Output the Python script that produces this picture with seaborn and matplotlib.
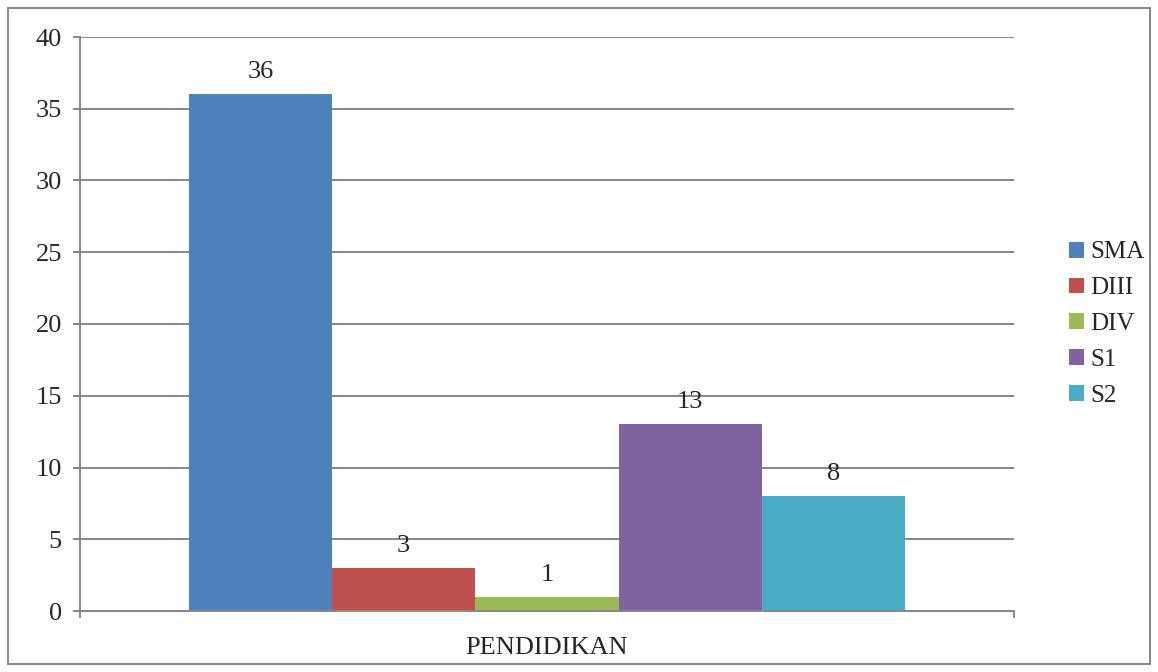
import matplotlib.pyplot as plt
import matplotlib.patches as patches
import pandas as pd
import seaborn as sns

# Data
group = 'PENDIDIKAN'
levels = ['SMA', 'DIII', 'DIV', 'S1', 'S2']
counts = [36, 3, 1, 13, 8]
colors = ['#4F81BD', '#C0504D', '#9BBB59', '#8064A2', '#4BACC6']

df = pd.DataFrame({'group': [group] * len(levels), 'level': levels, 'count': counts})

sns.set_style('white')
plt.rcParams['font.family'] = ['Liberation Serif', 'DejaVu Serif']

fig = plt.figure(figsize=(11.58, 6.72), dpi=100)
ax = fig.add_axes([80 / 1158, 1 - 611 / 672, 934 / 1158, 574 / 672])

sns.barplot(data=df, x='group', y='count', hue='level', hue_order=levels,
            palette=colors, width=0.767, saturation=1, linewidth=0, ax=ax)

for c in ax.containers:
  ax.bar_label(c, padding=8, fontsize=19)

ax.set_xlim(-0.5, 0.5)
ax.set_ylim(0, 40)
ax.set_yticks(range(0, 41, 5))
ax.yaxis.grid(True, color='#868686', linewidth=1.4)
ax.set_axisbelow(True)
ax.tick_params(axis='y', left=True, length=5, width=1.4, color='#868686',
               labelsize=19, pad=8)
ax.tick_params(axis='x', which='major', bottom=True, length=0, labelsize=19, pad=19)
ax.set_xticks([-0.5, 0.5], minor=True)
ax.tick_params(axis='x', which='minor', bottom=True, length=5, width=1.4,
               color='#868686')
ax.set_xlabel('')
ax.set_ylabel('')

for s in ['top', 'right']:
  ax.spines[s].set_visible(False)
for s in ['left', 'bottom']:
  ax.spines[s].set_color('#868686')
  ax.spines[s].set_linewidth(1.4)

leg = ax.legend(loc='center left', bbox_to_anchor=(1.035, 0.5), frameon=False,
                fontsize=18, handlelength=0.6, handleheight=0.6,
                handletextpad=0.25, labelspacing=0.55)

# outer chart border
fig.patches.append(patches.Rectangle((8 / 1158, 8 / 672), 1142 / 1158, 656 / 672,
                                     transform=fig.transFigure, fill=False,
                                     edgecolor='#868686', linewidth=1.4))

fig.savefig('out.png', dpi=100)
